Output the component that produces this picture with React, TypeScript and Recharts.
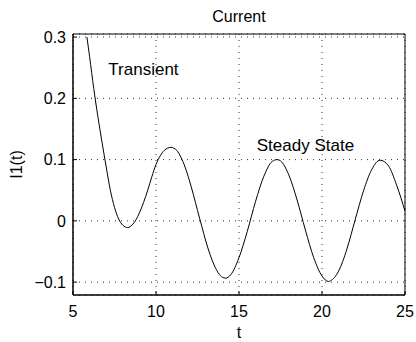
import { LineChart, Line, XAxis, YAxis, CartesianGrid, ReferenceDot, ReferenceArea } from "recharts";

// time samples (t) and current I1(t)
const T_VALUES = [
  5.84, 6, 6.25, 6.5, 6.75, 7, 7.25, 7.5, 7.75, 8, 8.3, 8.55, 8.8, 9, 9.25, 9.5, 9.75, 10,
  10.25, 10.5, 10.9, 11.25, 11.5, 11.75, 12, 12.25, 12.5, 12.75, 13, 13.5, 14, 14.2, 14.5,
  15, 15.5, 16, 16.5, 17, 17.3, 17.5, 18, 18.5, 19, 19.5, 20, 20.4, 20.5, 21, 21.5, 22,
  22.5, 23, 23.5, 24, 24.5, 25,
];
const I1_VALUES = [
  0.3, 0.268, 0.216, 0.17, 0.128, 0.088, 0.05, 0.022, 0.003, -0.007, -0.011, -0.007, 0.002,
  0.013, 0.03, 0.05, 0.072, 0.092, 0.106, 0.115, 0.12, 0.115, 0.104, 0.088, 0.067, 0.043,
  0.017, -0.008, -0.033, -0.072, -0.092, -0.0935, -0.088, -0.06, -0.017, 0.032, 0.073,
  0.097, 0.1, 0.098, 0.075, 0.034, -0.015, -0.06, -0.09, -0.099, -0.098, -0.082, -0.046,
  0.002, 0.049, 0.084, 0.099, 0.09, 0.058, 0.016,
];

const X_TICKS = [5, 10, 15, 20, 25];
const Y_TICKS = [-0.1, 0, 0.1, 0.2, 0.3];
const X_DOMAIN = [5, 25];
const Y_DOMAIN = [-0.121, 0.305];

const data = T_VALUES.map((t, i) => ({ t, i1: I1_VALUES[i] }));

const FONT = '"Liberation Sans", Arial, Helvetica, sans-serif';
const fmtY = (v: number) => (v < 0 ? "\u2212" + String(-v) : String(v));

export default function App() {
  return (
    <div style={{ position: "absolute", left: 0, top: 0, width: 416, height: 342, background: "#fff", fontFamily: FONT }}>
      <LineChart width={416} height={342} data={data} margin={{ top: 34, right: 11, bottom: 0, left: 0 }}>
        <CartesianGrid stroke="#333" strokeDasharray="1 5" />
        <XAxis
          dataKey="t"
          type="number"
          domain={X_DOMAIN}
          ticks={X_TICKS}
          height={47}
          stroke="#000"
          tickSize={-4}
          tickMargin={15}
          tick={{ fontSize: 16, fill: "#000" }}
          label={{ value: "t", position: "insideBottom", offset: 4, fontSize: 16, fill: "#000" }}
        />
        <YAxis
          type="number"
          domain={Y_DOMAIN}
          ticks={Y_TICKS}
          allowDataOverflow
          width={73}
          stroke="#000"
          tickSize={-4}
          tickMargin={11}
          tickFormatter={fmtY}
          tick={{ fontSize: 16, fill: "#000" }}
          label={({ viewBox }: any) => (
            <text
              x={viewBox.x + 22}
              y={viewBox.y + viewBox.height / 2}
              transform={`rotate(-90 ${viewBox.x + 22} ${viewBox.y + viewBox.height / 2})`}
              textAnchor="middle"
              fontSize={16}
              fill="#000"
            >
              I1(t)
            </text>
          )}
        />
        {/* axes box + title */}
        <ReferenceArea
          x1={X_DOMAIN[0]}
          x2={X_DOMAIN[1]}
          y1={Y_DOMAIN[0]}
          y2={Y_DOMAIN[1]}
          fill="none"
          stroke="#000"
          strokeWidth={1}
          label={{ value: "Current", position: "top", offset: 12, fontSize: 16, fill: "#000" }}
        />
        <Line
          type="monotone"
          dataKey="i1"
          stroke="#000"
          strokeWidth={1}
          dot={false}
          activeDot={false}
          isAnimationActive={false}
        />
        <ReferenceDot
          x={7.13}
          y={0.248}
          r={0}
          label={{ value: "Transient", position: "right", offset: 0, fontSize: 17, fill: "#000" }}
        />
        <ReferenceDot
          x={16.07}
          y={0.124}
          r={0}
          label={{ value: "Steady State", position: "right", offset: 0, fontSize: 17, fill: "#000" }}
        />
      </LineChart>
    </div>
  );
}
